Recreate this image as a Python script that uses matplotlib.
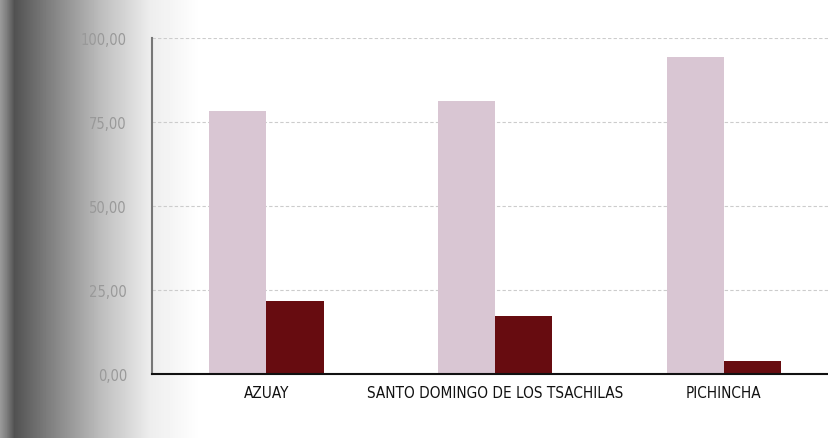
import numpy as np
import matplotlib.pyplot as plt

categorias = ['AZUAY', 'SANTO DOMINGO DE LOS TSACHILAS', 'PICHINCHA']
serie_clara = [78.2, 81.3, 94.3]
serie_oscura = [21.8, 17.2, 3.8]
ticks_y = [0, 25, 50, 75, 100]
etiquetas_y = ['0,00', '25,00', '50,00', '75,00', '100,00']

fig = plt.figure(figsize=(8.29, 4.39), dpi=100)

# sombra del escaneo a la izquierda
fondo = fig.add_axes([0, 0, 1, 1], zorder=0)
px = np.arange(829)
gris = np.interp(px, [0, 6, 14, 45, 100, 150, 200, 829],
                 [0.6, 0.5, 0.32, 0.48, 0.74, 0.93, 1.0, 1.0])
fondo.imshow(np.tile(gris, (2, 1)), cmap='gray', vmin=0, vmax=1,
             aspect='auto', extent=[0, 1, 0, 1])
fondo.axis('off')

ax = fig.add_axes([152 / 829, 64 / 439, 1 - 152 / 829, 336 / 439], zorder=1)
ax.patch.set_alpha(0)

x = np.arange(len(categorias))
ancho = 0.25
ax.bar(x - ancho / 2, serie_clara, ancho, color='#d9c6d3', zorder=2)
ax.bar(x + ancho / 2, serie_oscura, ancho, color='#670c10', zorder=2)

ax.set_xlim(-0.5, 2.46)
ax.set_ylim(0, 100)
ax.set_yticks(ticks_y)
ax.set_yticklabels(etiquetas_y, color='#999999', fontsize=10.5,
                   family='DejaVu Sans', stretch='condensed')
ax.set_xticks(x)
ax.set_xticklabels(categorias, fontsize=11, family='DejaVu Sans',
                   stretch='condensed', color='#111111')
ax.tick_params(axis='y', length=0, pad=18)
ax.tick_params(axis='x', length=0, pad=8)

ax.grid(axis='y', color='#cccccc', linestyle=(0, (3, 2)), linewidth=0.8, zorder=1)
for lado in ['top', 'right']:
    ax.spines[lado].set_visible(False)
ax.spines['left'].set_color('#777777')
ax.spines['left'].set_linewidth(1.5)
ax.spines['bottom'].set_color('#111111')
ax.spines['bottom'].set_linewidth(1.5)

fig.savefig('out.png', dpi=100)
